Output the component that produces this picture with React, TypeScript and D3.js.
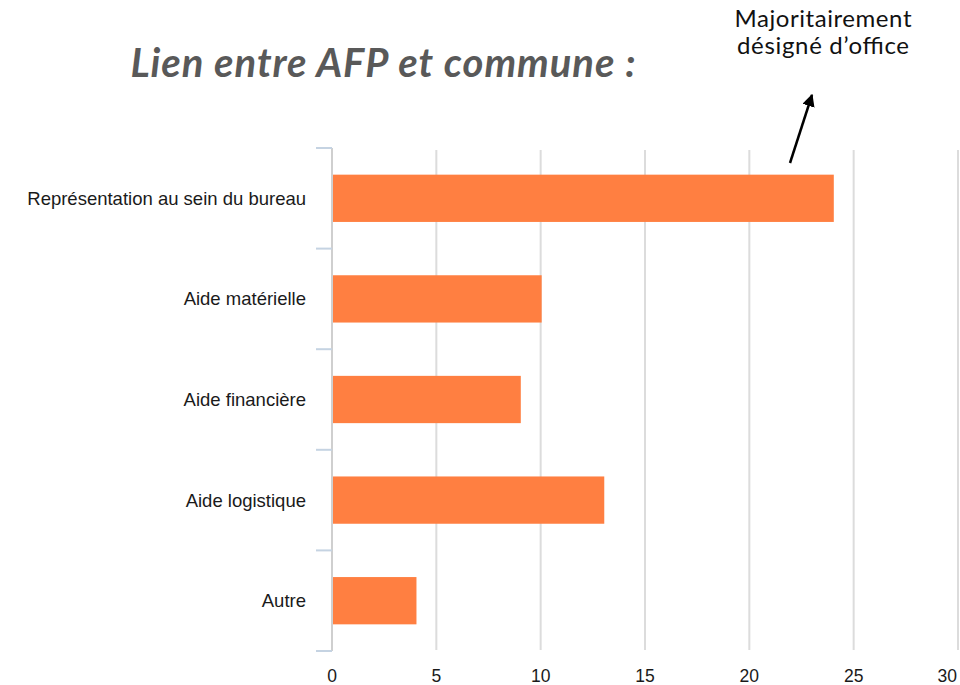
import { useEffect } from "react";
import * as d3 from "d3";

const categories = [
  "Représentation au sein du bureau",
  "Aide matérielle",
  "Aide financière",
  "Aide logistique",
  "Autre",
];
const values = [24, 10, 9, 13, 4];
const xTicks = [0, 5, 10, 15, 20, 25, 30];

const title = "Lien entre AFP et commune :";
const noteLines = ["Majoritairement", "désigné d’office"];
const noteWidths = [177, 172];

export default function App() {
  useEffect(() => {
    document.body.style.margin = "0";
  }, []);

  const width = 960;
  const height = 685;
  const x = d3.scaleLinear().domain([0, 30]).range([332, 958]);
  const y = d3
    .scaleBand<string>()
    .domain(categories)
    .range([148, 651])
    .paddingInner(0.53)
    .paddingOuter(0.265);

  const step = y.step();
  const top = y.range()[0];
  const boundaries = d3.range(categories.length + 1).map((i) => top + i * step);
  const lastTick = xTicks[xTicks.length - 1];

  return (
    <svg width={width} height={height} style={{ display: "block" }}>
      <defs>
        <marker
          id="arrowhead"
          viewBox="0 0 10 10"
          refX="9"
          refY="5"
          markerWidth="5"
          markerHeight="5"
          orient="auto"
        >
          <path d="M0,0 L10,5 L0,10 z" fill="#000" />
        </marker>
      </defs>

      <text
        x={383}
        y={77}
        textAnchor="middle"
        fontFamily="Lato, 'Open Sans', sans-serif"
        fontWeight="bold"
        fontStyle="italic"
        fontSize={40}
        textLength={505}
        fill="#595959"
      >
        {title}
      </text>

      {noteLines.map((line, i) => (
        <text
          key={line}
          x={823}
          y={27 + i * 27}
          textAnchor="middle"
          fontFamily="Lato, 'Open Sans', sans-serif"
          fontSize={24}
          textLength={noteWidths[i]}
          fill="#111"
        >
          {line}
        </text>
      ))}
      <line
        x1={790}
        y1={163}
        x2={812}
        y2={95}
        stroke="#000"
        strokeWidth={2.5}
        markerEnd="url(#arrowhead)"
      />

      {xTicks
        .filter((t) => t !== 0)
        .map((t) => (
          <line
            key={`g${t}`}
            x1={x(t)}
            x2={x(t)}
            y1={150}
            y2={650}
            stroke="#dcdcdc"
            strokeWidth={2}
          />
        ))}

      <line x1={332} x2={332} y1={148} y2={651} stroke="#cfcfcf" strokeWidth={2} />
      {boundaries.map((b, i) => (
        <line
          key={`t${i}`}
          x1={316}
          x2={332}
          y1={b}
          y2={b}
          stroke="#c5d3e2"
          strokeWidth={2}
        />
      ))}

      {categories.map((c, i) => (
        <rect
          key={c}
          x={x(0) + 1}
          y={y(c)}
          width={x(values[i]) - x(0)}
          height={y.bandwidth()}
          fill="#ff7f41"
        />
      ))}

      {categories.map((c) => (
        <text
          key={`l${c}`}
          x={306}
          y={(y(c) ?? 0) + y.bandwidth() / 2}
          dy="0.35em"
          textAnchor="end"
          fontFamily="'Liberation Sans', Arial, sans-serif"
          fontSize={18.5}
          fill="#1a1a1a"
        >
          {c}
        </text>
      ))}

      {xTicks.map((t) => (
        <text
          key={`x${t}`}
          x={t === lastTick ? x(t) - 1 : x(t)}
          y={682}
          textAnchor={t === lastTick ? "end" : "middle"}
          fontFamily="'Liberation Sans', Arial, sans-serif"
          fontSize={17.5}
          fill="#1a1a1a"
        >
          {t}
        </text>
      ))}
    </svg>
  );
}
